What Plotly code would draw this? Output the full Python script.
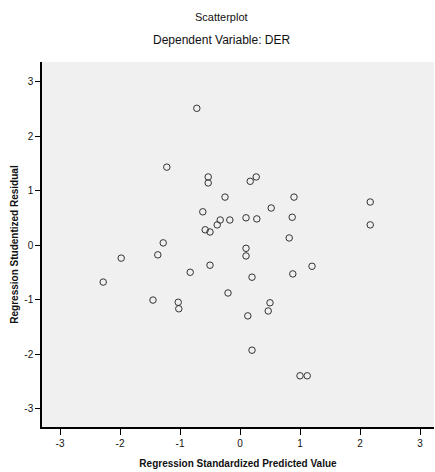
import plotly.graph_objects as go

# Regression standardized predicted value (x) vs studentized residual (y)
predicted = [-0.72, -1.22, -0.53, -0.53, 0.17, 0.27, -0.25, -0.62, -0.58, -0.50,
             -0.38, -0.33, -0.17, 0.10, 0.28, 0.52, 0.90, 0.87, 0.82, 0.10,
             0.10, -1.28, -1.37, -1.98, -2.28, -0.83, -0.50, 0.20, -1.45, -1.03,
             -1.02, -0.20, 0.13, 0.50, 0.47, 0.20, 1.00, 1.12, 0.88, 1.20,
             2.17, 2.17]
residual = [2.51, 1.43, 1.25, 1.14, 1.17, 1.25, 0.88, 0.61, 0.28, 0.24,
            0.37, 0.46, 0.46, 0.50, 0.48, 0.68, 0.88, 0.51, 0.13, -0.06,
            -0.20, 0.04, -0.18, -0.24, -0.68, -0.50, -0.37, -0.59, -1.01, -1.05,
            -1.17, -0.88, -1.30, -1.06, -1.21, -1.93, -2.40, -2.40, -0.53, -0.39,
            0.79, 0.37]

x_ticks = [-3, -2, -1, 0, 1, 2, 3]
y_ticks = [-3, -2, -1, 0, 1, 2, 3]

font_family = "Liberation Sans, Arial, sans-serif"

fig = go.Figure()
fig.add_trace(go.Scatter(
    x=predicted, y=residual, mode="markers",
    marker=dict(symbol="circle-open", size=6.5, color="#333333", line=dict(width=1)),
    showlegend=False, hoverinfo="skip",
))

fig.update_layout(
    width=435, height=472,
    margin=dict(l=42, r=1, t=62, b=45, autoexpand=False),
    paper_bgcolor="white",
    plot_bgcolor="#f0f0f0",
    font=dict(family=font_family, size=10, color="#111111"),
)
fig.add_annotation(text="Scatterplot", xref="paper", yref="paper",
                   x=0.459, y=1.0, yshift=45, yanchor="middle", showarrow=False,
                   font=dict(size=11, family=font_family))
fig.add_annotation(text="Dependent Variable: DER", xref="paper", yref="paper",
                   x=0.459, y=1.0, yshift=22, yanchor="middle", showarrow=False,
                   font=dict(size=12, family=font_family))

fig.update_xaxes(
    range=[-3.3, 3.233], tickvals=x_ticks, ticktext=[str(v) for v in x_ticks],
    showgrid=False, zeroline=False, automargin=False,
    showline=True, linecolor="#000000", linewidth=1.5, mirror=False,
    ticks="outside", ticklen=6, tickcolor="#000000", tickwidth=1,
    tickfont=dict(size=10),
    title=dict(text="<b>Regression Standardized Predicted Value</b>",
               font=dict(size=10), standoff=12),
)
fig.update_yaxes(
    range=[-3.34, 3.36], tickvals=y_ticks, ticktext=[str(v) for v in y_ticks],
    showgrid=False, zeroline=False, automargin=False,
    showline=True, linecolor="#000000", linewidth=1.5, mirror=False,
    ticks="outside", ticklen=5, tickcolor="#000000", tickwidth=1,
    tickfont=dict(size=10),
    title=dict(text="<b>Regression Studentized Residual</b>",
               font=dict(size=10), standoff=4),
)

fig.write_html(
    "out.html",
    config={"displayModeBar": False},
    post_script="document.body.style.margin='0';document.body.style.overflow='hidden';",
)
